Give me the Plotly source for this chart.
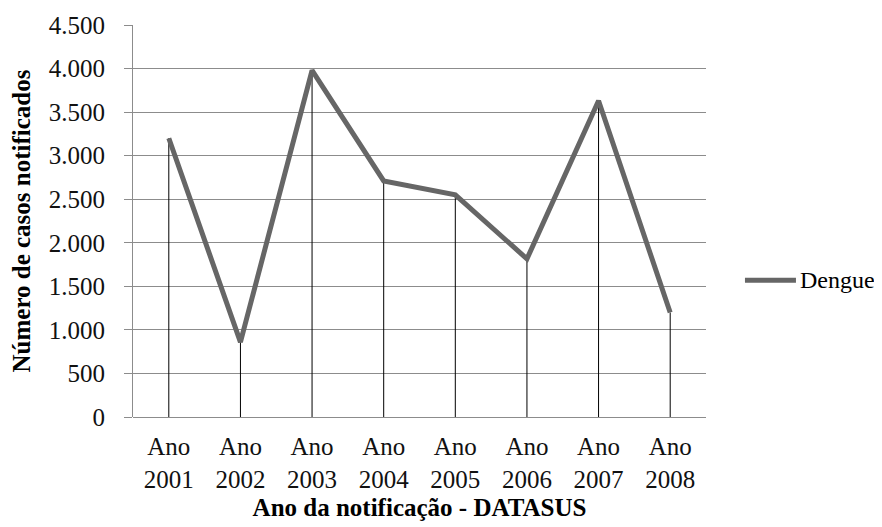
import plotly.graph_objects as go

categories = ["Ano<br>2001", "Ano<br>2002", "Ano<br>2003", "Ano<br>2004",
              "Ano<br>2005", "Ano<br>2006", "Ano<br>2007", "Ano<br>2008"]
dengue = [3200, 860, 3980, 2710, 2550, 1815, 3630, 1200]
y_ticks = [0, 500, 1000, 1500, 2000, 2500, 3000, 3500, 4000, 4500]
y_tick_labels = ["0", "500", "1.000", "1.500", "2.000", "2.500",
                 "3.000", "3.500", "4.000", "4.500"]

FONT = "Liberation Serif"
GRID = "#8c8c8c"
REG_WEIGHT = 500

fig = go.Figure()
fig.add_trace(go.Scatter(
    x=categories, y=dengue, mode="lines", name="Dengue",
    line=dict(color="#666666", width=5),
    error_y=dict(type="data", symmetric=False, array=[0] * len(dengue),
                 arrayminus=dengue, color="black", thickness=1, width=0),
    showlegend=False,
))

# manual legend
fig.add_shape(type="line", xref="paper", yref="paper",
              x0=1.068, x1=1.157, y0=0.349, y1=0.349,
              line=dict(color="#666666", width=5))
fig.add_annotation(xref="paper", yref="paper", x=1.16, y=0.349,
                   text="Dengue", showarrow=False, xanchor="left", yanchor="middle",
                   font=dict(family=FONT, size=24, color="black", weight=REG_WEIGHT))

fig.update_layout(
    width=882, height=527,
    margin=dict(l=125, r=184, t=17, b=118),
    paper_bgcolor="white", plot_bgcolor="white",
)
fig.update_xaxes(
    type="category", range=[-0.5, 7.5], automargin=False,
    showgrid=False, showline=False, zeroline=False, ticks="",
    ticklabelstandoff=12,
    tickfont=dict(family=FONT, size=25, color="#111111", weight=REG_WEIGHT),
    title=dict(text="<b>Ano da notificação - DATASUS</b>",
               font=dict(family=FONT, size=25, color="black"), standoff=6),
)
fig.update_yaxes(
    range=[0, 4500], tickvals=y_ticks, ticktext=y_tick_labels, automargin=False,
    showgrid=True, gridcolor=GRID, gridwidth=1,
    zeroline=True, zerolinecolor=GRID, zerolinewidth=1,
    showline=True, linecolor=GRID, linewidth=1,
    ticks="outside", ticklen=8, tickcolor=GRID,
    ticklabelstandoff=14,
    tickfont=dict(family=FONT, size=25, color="#111111", weight=REG_WEIGHT),
    title=dict(text="<b>Número de casos notificados</b>",
               font=dict(family=FONT, size=25, color="black"), standoff=14),
)

fig.write_html("out.html")
